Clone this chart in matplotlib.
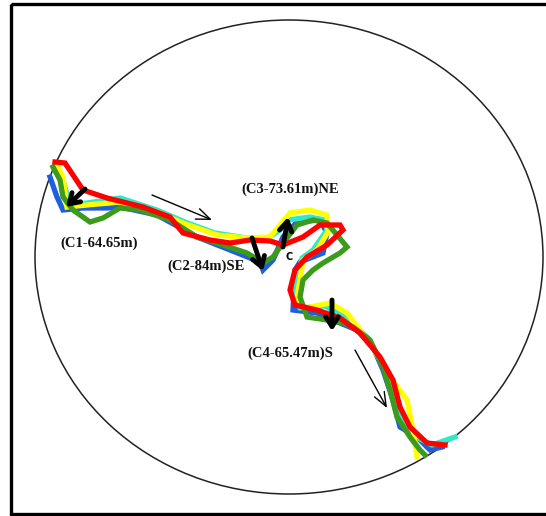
import matplotlib.pyplot as plt
from matplotlib.patches import Ellipse, Rectangle

# traced channel lines (image pixel coords, y down)
blue_x = [50, 57, 63, 83, 107, 120, 157, 197, 230, 260, 263, 273, 283, 297, 320, 327, 323, 300, 295, 293, 317, 340, 357, 373, 383, 393, 400, 417, 430, 442]
blue_y = [177, 197, 210, 208, 208, 207, 215, 237, 250, 262, 270, 260, 237, 222, 220, 233, 253, 262, 270, 310, 313, 323, 330, 347, 370, 400, 427, 437, 450, 447]

green_x = [53, 60, 63, 73, 90, 103, 120, 140, 170, 197, 217, 247, 263, 273, 283, 297, 313, 327, 347, 340, 323, 313, 303, 300, 307, 327, 343, 353, 370, 383, 390, 397, 410, 420, 425]
green_y = [167, 180, 197, 210, 222, 218, 208, 210, 220, 237, 243, 253, 263, 257, 243, 225, 220, 223, 247, 253, 263, 270, 280, 297, 317, 320, 323, 327, 340, 367, 390, 417, 437, 450, 455]

cyan_x = [55, 63, 70, 87, 120, 157, 185, 215, 247, 268, 280, 288, 310, 325, 327, 313, 302, 297, 295, 300, 325, 347, 368, 385, 397, 405, 418, 432, 455]
cyan_y = [167, 180, 205, 203, 198, 210, 222, 233, 238, 238, 230, 220, 217, 220, 230, 250, 258, 277, 300, 308, 306, 318, 338, 370, 400, 425, 438, 445, 437]

yellow_x = [58, 63, 67, 87, 120, 157, 180, 217, 247, 270, 280, 290, 310, 327, 328, 317, 303, 300, 297, 305, 330, 347, 370, 390, 407, 413, 417]
yellow_y = [167, 177, 207, 205, 202, 212, 222, 235, 238, 237, 225, 213, 210, 215, 232, 250, 260, 280, 297, 308, 303, 313, 343, 377, 400, 430, 457]

red_x = [55, 65, 83, 107, 143, 170, 183, 210, 230, 250, 270, 283, 303, 320, 340, 343, 327, 307, 295, 290, 295, 317, 340, 360, 380, 393, 400, 410, 427, 445]
red_y = [162, 163, 190, 198, 207, 217, 233, 240, 243, 240, 241, 245, 237, 225, 225, 230, 245, 257, 270, 290, 305, 310, 318, 333, 357, 380, 407, 427, 443, 445]

# direction arrows: (tail x, tail y, head x, head y)
thick_arrows = [(85, 189, 66, 207), (252, 238, 263, 271), (283, 247, 288, 217), (332, 300, 332, 331)]
thin_arrows = [(152, 195, 212, 220), (355, 350, 387, 408)]

labels = ["(C1-64.65m)", "(C2-84m)SE", "(C3-73.61m)NE", "(C4-65.47m)S"]
label_x = [99, 206, 290, 290]
label_y = [243, 266, 189, 353]

fig = plt.figure(figsize=(5.46, 5.16), dpi=100)
ax = fig.add_axes([0, 0, 1, 1])
ax.set_xlim(0, 546)
ax.set_ylim(516, 0)
ax.axis('off')

ax.add_patch(Rectangle((11, 4), 545, 510, fill=False, edgecolor='black', lw=2.4))
ax.add_patch(Ellipse((289, 257), 508, 474, fill=False, edgecolor='#222222', lw=1.1))

lw = 3.8
ax.plot(blue_x, blue_y, color='#1f5fdc', lw=lw, solid_joinstyle='miter')
ax.plot(cyan_x, cyan_y, color='#2ee8c8', lw=lw, solid_joinstyle='miter')
ax.plot(yellow_x, yellow_y, color='#ffff00', lw=lw, solid_joinstyle='miter')
ax.plot(green_x, green_y, color='#3c9a1c', lw=lw, solid_joinstyle='miter')
ax.plot(red_x, red_y, color='#ff0000', lw=lw, solid_joinstyle='miter')

for x0, y0, x1, y1 in thick_arrows:
    ax.annotate('', xy=(x1, y1), xytext=(x0, y0),
                arrowprops=dict(arrowstyle='->,head_length=0.7,head_width=0.45',
                                lw=3.5, color='black', shrinkA=0, shrinkB=0))
for x0, y0, x1, y1 in thin_arrows:
    ax.annotate('', xy=(x1, y1), xytext=(x0, y0),
                arrowprops=dict(arrowstyle='->,head_length=1.0,head_width=0.4',
                                lw=1.0, color='black', shrinkA=0, shrinkB=0))

for t, x, y in zip(labels, label_x, label_y):
    ax.text(x, y, t, ha='center', va='center', fontsize=10.5,
            fontweight='bold', family='Liberation Serif', color='#111111')
ax.text(289, 257, 'C', ha='center', va='center', fontsize=7,
        fontweight='bold', family='DejaVu Sans')

fig.savefig('out.png', dpi=100)
